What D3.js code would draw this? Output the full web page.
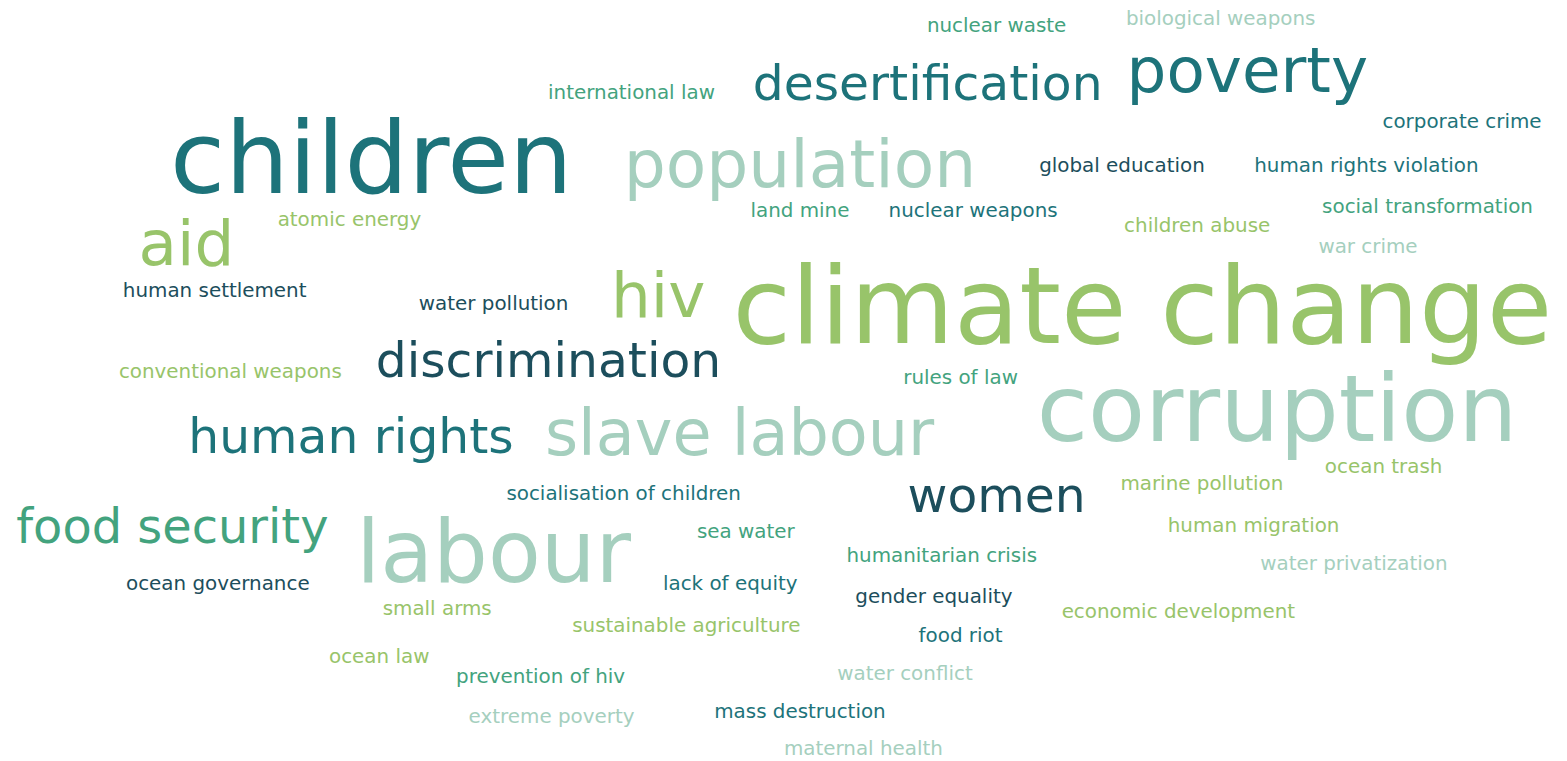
<!DOCTYPE html>
<html>
<head>
<meta charset="utf-8">
<script src="https://cdn.jsdelivr.net/npm/d3@7"></script>
<style>
  body { margin: 0; background: #fff; }
  svg { display: block; }
</style>
</head>
<body>
<svg></svg>
<script>
// Palabras y su peso
const words = [
  "climate change", "children", "corruption", "labour", "population",
  "poverty", "slave labour", "aid", "hiv", "desertification",
  "discrimination", "human rights", "food security", "women", "nuclear waste",
  "biological weapons", "international law", "corporate crime", "global education", "human rights violation",
  "atomic energy", "land mine", "nuclear weapons", "social transformation", "children abuse",
  "war crime", "human settlement", "water pollution", "conventional weapons", "rules of law",
  "ocean trash", "marine pollution", "socialisation of children", "human migration", "sea water",
  "humanitarian crisis", "water privatization", "ocean governance", "lack of equity", "gender equality",
  "small arms", "economic development", "sustainable agriculture", "food riot", "ocean law",
  "water conflict", "prevention of hiv", "mass destruction", "extreme poverty", "maternal health"
]
const weights = [
  100, 93, 85, 77, 54,
  50, 51, 50, 50, 34,
  34, 34, 33, 34, 1,
  1, 1, 1, 1, 1,
  1, 1, 1, 1, 1,
  1, 1, 1, 1, 1,
  1, 1, 1, 1, 1,
  1, 1, 1, 1, 1,
  1, 1, 1, 1, 1,
  1, 1, 1, 1, 1
]
// grupo de color de cada palabra
const groups = [
  2, 0, 3, 3, 3,
  0, 3, 2, 2, 0,
  1, 0, 4, 1, 4,
  3, 4, 0, 1, 0,
  2, 4, 0, 4, 2,
  3, 1, 1, 2, 4,
  2, 2, 0, 2, 4,
  4, 3, 1, 0, 1,
  2, 2, 2, 0, 2,
  3, 4, 0, 3, 3
]
// posición en la nube (% del ancho: centro, % del alto: línea base)
const posX = [
  72.9, 23.7, 81.5, 31.5, 51.05,
  79.6, 47.2, 11.9, 42.0, 59.2,
  35.0, 22.4, 11.0, 63.6, 63.6,
  77.9, 40.3, 93.3, 71.6, 87.2,
  22.3, 51.05, 62.1, 91.1, 76.4,
  87.3, 13.7, 31.5, 14.7, 61.3,
  88.3, 76.7, 39.8, 80.0, 47.6,
  60.1, 86.4, 13.9, 46.6, 59.6,
  27.9, 75.2, 43.8, 61.3, 24.2,
  57.75, 34.5, 51.05, 35.2, 55.1
]
const posY = [
  45.1, 25.4, 58.0, 76.5, 24.6,
  12.1, 59.8, 34.8, 41.7, 13.1,
  49.5, 59.5, 71.4, 67.3, 4.2,
  3.3, 13.0, 16.8, 22.6, 22.6,
  29.7, 28.5, 28.5, 28.0, 30.5,
  33.25, 39.0, 40.7, 49.7, 50.5,
  62.2, 64.4, 65.7, 69.9, 70.7,
  73.85, 74.9, 77.5, 77.5, 79.2,
  80.8, 81.2, 83.05, 84.4, 87.1,
  89.4, 89.75, 94.35, 95.0, 99.2
]
const palette = ["#1d737a", "#1c4e5c", "#98c46a", "#a5cfbe", "#43a37e"]

// Dimensiones
const svgWidth = 1567
const svgHeight = 761

// Escalas
const xScale = d3.scaleLinear([0, 100], [0, svgWidth])
const yScale = d3.scaleLinear([0, 100], [0, svgHeight])
const sizeScale = d3.scaleLinear([1, 100], [19.9, 106.5])
const colorScale = d3.scaleOrdinal([0, 1, 2, 3, 4], palette)

const rows = words.map((w, i) => ({
  text: w, weight: weights[i], group: groups[i], x: posX[i], y: posY[i]
}))

const svg = d3.select("svg")
  .attr("width", svgWidth)
  .attr("height", svgHeight)

svg.append("g")
  .selectAll("text")
  .data(rows)
  .join("text")
    .attr("x", d => xScale(d.x))
    .attr("y", d => yScale(d.y))
    .attr("text-anchor", "middle")
    .attr("font-family", "'DejaVu Sans', sans-serif")
    .attr("font-size", d => sizeScale(d.weight) + "px")
    .attr("fill", d => colorScale(d.group))
    .text(d => d.text)
</script>
</body>
</html>
